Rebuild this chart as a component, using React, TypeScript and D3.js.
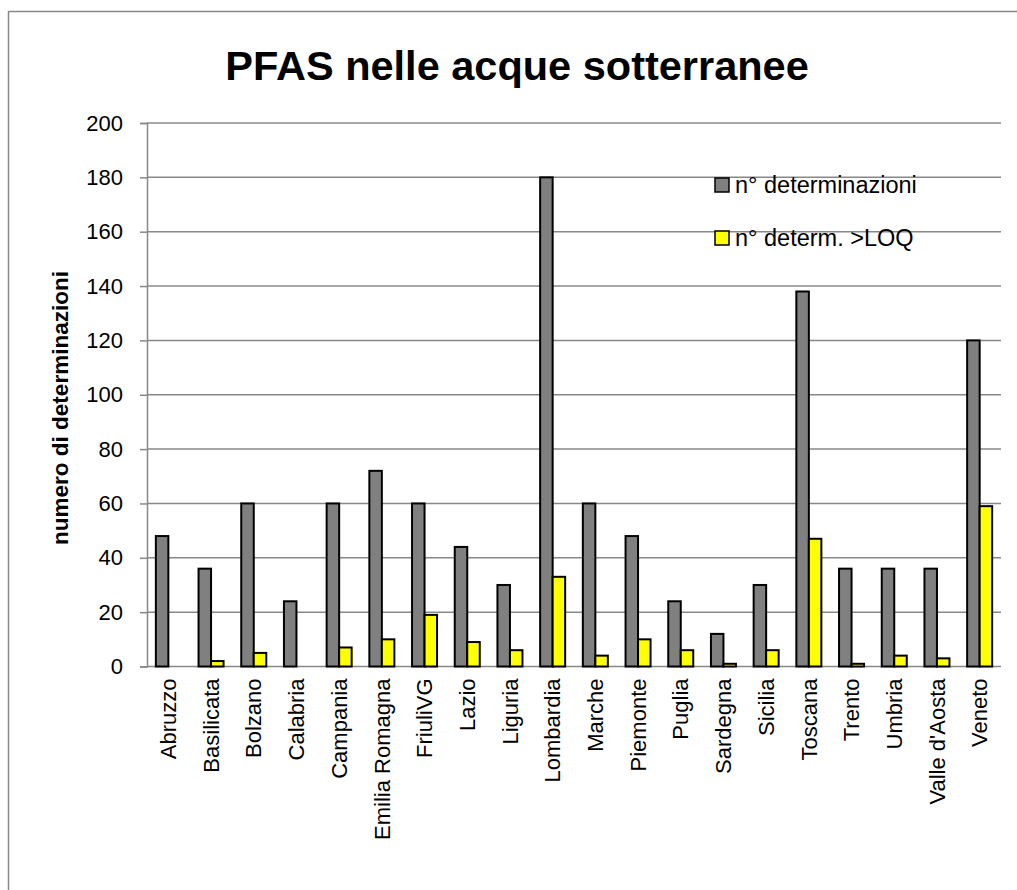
import React, { useEffect, useRef } from "react";
import * as d3 from "d3";

const regions = [
  "Abruzzo", "Basilicata", "Bolzano", "Calabria", "Campania", "Emilia Romagna",
  "FriuliVG", "Lazio", "Liguria", "Lombardia", "Marche", "Piemonte", "Puglia",
  "Sardegna", "Sicilia", "Toscana", "Trento", "Umbria", "Valle d'Aosta", "Veneto",
];
const determinazioni = [48, 36, 60, 24, 60, 72, 60, 44, 30, 180, 60, 48, 24, 12, 30, 138, 36, 36, 36, 120];
const sopraLOQ = [0, 2, 5, 0, 7, 10, 19, 9, 6, 33, 4, 10, 6, 1, 6, 47, 1, 4, 3, 59];
const yTicks = [0, 20, 40, 60, 80, 100, 120, 140, 160, 180, 200];
const seriesNames = ["n° determinazioni", "n° determ. >LOQ"];
const seriesColors = ["#808080", "#ffff00"];

const FONT = "'Liberation Sans', Arial, sans-serif";

const App = () => {
  const svgRef = useRef<SVGSVGElement>(null);

  useEffect(() => {
    const W = 1017, H = 890;
    const left = 147, right = 1001, top = 123, bottom = 666.5;

    const svg = d3.select(svgRef.current).attr("width", W).attr("height", H);
    svg.selectAll("*").remove();

    // outer frame (runs off the page on the right and bottom)
    svg.append("rect")
      .attr("x", 8.5).attr("y", 11.5)
      .attr("width", 1100).attr("height", 1000)
      .attr("fill", "white").attr("stroke", "#888").attr("stroke-width", 1.5);

    const x = d3.scaleBand().domain(regions).range([left, right]).paddingInner(0).paddingOuter(0);
    const y = d3.scaleLinear().domain([0, 200]).range([bottom, top]);

    // y axis
    svg.append("g")
      .attr("transform", `translate(${left},0)`)
      .call(d3.axisLeft(y).tickValues(yTicks).tickSize(7).tickPadding(17).tickFormat(d3.format("d")))
      .call((g) => g.select(".domain").attr("stroke", "#888").attr("stroke-width", 1.5))
      .call((g) => g.selectAll(".tick line").attr("stroke", "#888").attr("stroke-width", 1.5))
      .call((g) => g.selectAll("text").attr("fill", "#000").attr("font-family", FONT).attr("font-size", 22));

    // gridlines
    svg.append("g")
      .selectAll("line")
      .data(yTicks)
      .enter()
      .append("line")
      .attr("x1", left).attr("x2", right)
      .attr("y1", (d) => y(d)).attr("y2", (d) => y(d))
      .attr("stroke", "#888").attr("stroke-width", 1.5);

    // bars
    const bw = x.bandwidth();
    const barW = 12.5;
    const off = (bw - 2 * barW) / 2;
    [determinazioni, sopraLOQ].forEach((vals, si) => {
      svg.append("g")
        .selectAll("rect")
        .data(vals)
        .enter()
        .append("rect")
        .attr("x", (d, i) => x(regions[i])! + off + si * barW)
        .attr("y", (d) => y(d))
        .attr("width", barW)
        .attr("height", (d) => bottom - y(d))
        .attr("fill", seriesColors[si])
        .attr("stroke", "#000")
        .attr("stroke-width", 2)
        .attr("display", (d) => (d === 0 ? "none" : null));
    });

    // x labels
    svg.append("g")
      .selectAll("text")
      .data(regions)
      .enter()
      .append("text")
      .attr("transform", (d) => `translate(${x(d)! + bw / 2},${bottom + 12}) rotate(-90)`)
      .attr("text-anchor", "end")
      .attr("dy", "0.35em")
      .attr("font-family", FONT)
      .attr("font-size", 22)
      .text((d) => d);

    // title
    svg.append("text")
      .attr("x", 517).attr("y", 80)
      .attr("text-anchor", "middle")
      .attr("font-family", FONT)
      .attr("font-weight", "bold")
      .attr("font-size", 41.5)
      .text("PFAS nelle acque sotterranee");

    // y axis title
    svg.append("text")
      .attr("transform", "translate(68,408) rotate(-90)")
      .attr("text-anchor", "middle")
      .attr("font-family", FONT)
      .attr("font-weight", "bold")
      .attr("font-size", 22.5)
      .text("numero di determinazioni");

    // legend
    const legend = svg.append("g");
    seriesNames.forEach((name, i) => {
      const ly = 185 + i * 53;
      legend.append("rect")
        .attr("x", 715).attr("y", ly - 7)
        .attr("width", 14).attr("height", 14)
        .attr("fill", seriesColors[i]).attr("stroke", "#000").attr("stroke-width", 1.5);
      legend.append("text")
        .attr("x", 735).attr("y", ly)
        .attr("dy", "0.35em")
        .attr("font-family", FONT)
        .attr("font-size", 23.5)
        .text(name);
    });
  }, []);

  return (
    <svg ref={svgRef} style={{ position: "absolute", left: 0, top: 0 }}></svg>
  );
};

export default App;
